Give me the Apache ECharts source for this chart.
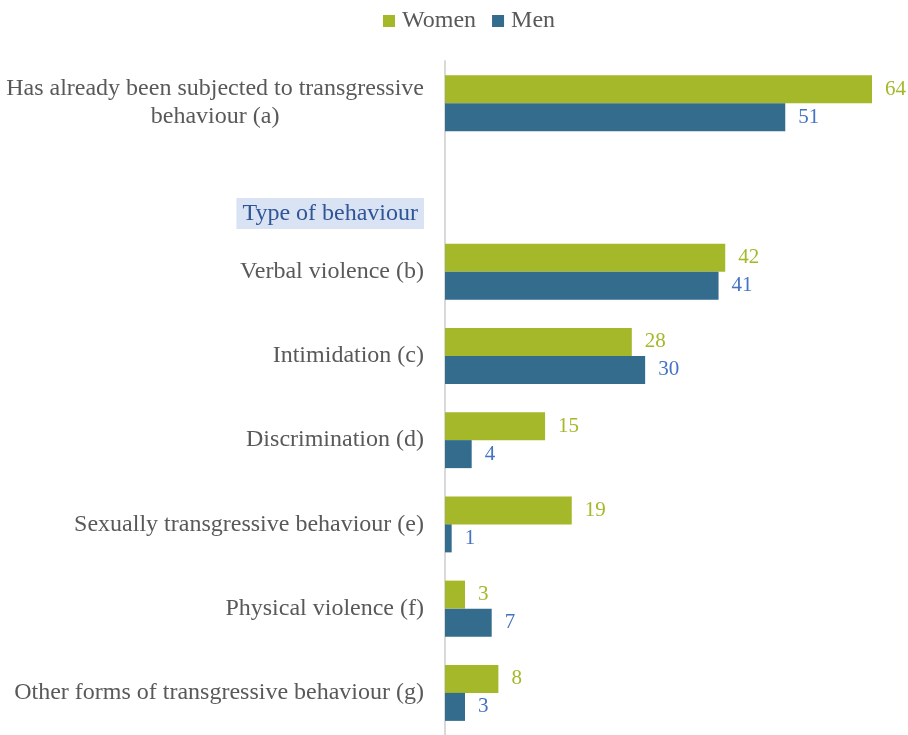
<!DOCTYPE html>
<html>
<head>
<meta charset="utf-8">
<script src="https://cdn.jsdelivr.net/npm/echarts@6/dist/echarts.min.js"></script>
<style>
  html, body { margin: 0; padding: 0; background: #fff; }
  #chart { width: 908px; height: 735px; }
</style>
</head>
<body>
<div id="chart"></div>
<script>
var categories = [
    'Has already been subjected to transgressive\nbehaviour (a)',
    'Type of behaviour',
    'Verbal violence (b)',
    'Intimidation (c)',
    'Discrimination (d)',
    'Sexually transgressive behaviour (e)',
    'Physical violence (f)',
    'Other forms of transgressive behaviour (g)'
];
var women = [64, null, 42, 28, 15, 19, 3, 8];
var men = [51, null, 41, 30, 4, 1, 7, 3];

var myChart = echarts.init(document.getElementById('chart'));
var option = {
    textStyle: { fontFamily: 'Liberation Serif' },
    legend: {
        data: ['Women', 'Men'],
        top: 9,
        left: 383,
        padding: 0,
        itemWidth: 12,
        itemHeight: 12,
        itemGap: 16,
        icon: 'rect',
        textStyle: { fontSize: 24, color: '#595959', fontFamily: 'Liberation Serif', padding: [0, 0, 0, 2] }
    },
    grid: {
        left: 445,
        right: 36,
        top: 61,
        height: 681
    },
    xAxis: {
        type: 'value',
        min: 0,
        max: 64,
        show: false
    },
    yAxis: {
        type: 'category',
        inverse: true,
        data: categories,
        axisLine: { show: true, lineStyle: { color: '#d9d9d9', width: 2 } },
        axisTick: { show: false },
        axisLabel: {
            margin: 21,
            fontSize: 24,
            color: '#595959',
            lineHeight: 28,
            align: 'right',
            formatter: function (v) {
                if (v === 'Type of behaviour') {
                    return '{e|}\n{t|' + v + '}';
                }
                return v.split('\n').map(function (s) { return '{n|' + s + '}'; }).join('\n');
            },
            rich: {
                n: { fontSize: 24, color: '#595959', lineHeight: 28, align: 'center', fontFamily: 'Liberation Serif' },
                e: { lineHeight: 52 },
                t: {
                    fontSize: 24, color: '#2f5597', height: 30, lineHeight: 30, fontFamily: 'Liberation Serif',
                    backgroundColor: '#dae3f3', padding: [1, 6, 0, 6]
                }
            }
        }
    },
    series: [
        {
            name: 'Women',
            type: 'bar',
            data: women,
            barWidth: 28,
            barGap: '0%',
            itemStyle: { color: '#a5b82a' },
            label: {
                show: true,
                position: 'right',
                distance: 13,
                fontSize: 21,
                color: '#a5b82a',
                fontFamily: 'Liberation Serif'
            }
        },
        {
            name: 'Men',
            type: 'bar',
            data: men,
            barWidth: 28,
            barGap: '0%',
            itemStyle: { color: '#336c8c' },
            label: {
                show: true,
                position: 'right',
                distance: 13,
                fontSize: 21,
                color: '#4472c4',
                fontFamily: 'Liberation Serif'
            }
        }
    ]
};
myChart.setOption(option);
</script>
</body>
</html>
